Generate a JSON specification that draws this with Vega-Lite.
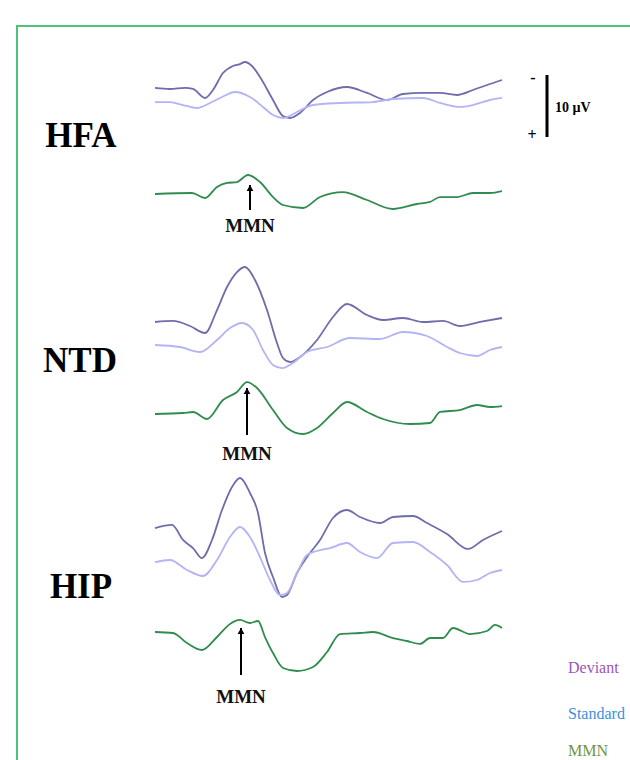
{
  "$schema": "https://vega.github.io/schema/vega-lite/v6.json",
  "width": 630,
  "height": 760,
  "autosize": {"type": "none"},
  "padding": 0,
  "background": "white",
  "config": {"view": {"stroke": null}},
  "datasets": {
    "traces": [
      {"group":"HFA","cond":"Deviant","t":-100,"v":13.89},{"group":"HFA","cond":"Deviant","t":-70,"v":14.05},{"group":"HFA","cond":"Deviant","t":-40,"v":13.89},{"group":"HFA","cond":"Deviant","t":-24,"v":14.05},{"group":"HFA","cond":"Deviant","t":0,"v":15.47},{"group":"HFA","cond":"Deviant","t":16,"v":14.21},{"group":"HFA","cond":"Deviant","t":36,"v":11.53},{"group":"HFA","cond":"Deviant","t":56,"v":10.42},{"group":"HFA","cond":"Deviant","t":70,"v":10.11},{"group":"HFA","cond":"Deviant","t":80,"v":9.79},{"group":"HFA","cond":"Deviant","t":94,"v":10.42},{"group":"HFA","cond":"Deviant","t":110,"v":12.16},{"group":"HFA","cond":"Deviant","t":136,"v":15.79},{"group":"HFA","cond":"Deviant","t":156,"v":18.32},{"group":"HFA","cond":"Deviant","t":170,"v":18.63},{"group":"HFA","cond":"Deviant","t":190,"v":17.84},{"group":"HFA","cond":"Deviant","t":216,"v":15.79},{"group":"HFA","cond":"Deviant","t":244,"v":14.53},{"group":"HFA","cond":"Deviant","t":284,"v":13.74},{"group":"HFA","cond":"Deviant","t":324,"v":14.68},{"group":"HFA","cond":"Deviant","t":364,"v":15.79},{"group":"HFA","cond":"Deviant","t":396,"v":14.84},{"group":"HFA","cond":"Deviant","t":436,"v":14.68},{"group":"HFA","cond":"Deviant","t":470,"v":14.68},{"group":"HFA","cond":"Deviant","t":504,"v":15.0},{"group":"HFA","cond":"Deviant","t":536,"v":14.21},{"group":"HFA","cond":"Deviant","t":564,"v":13.42},{"group":"HFA","cond":"Deviant","t":594,"v":12.63},

      {"group":"HFA","cond":"Standard","t":-100,"v":16.11},{"group":"HFA","cond":"Standard","t":-70,"v":16.11},{"group":"HFA","cond":"Standard","t":-44,"v":16.58},{"group":"HFA","cond":"Standard","t":-16,"v":17.05},{"group":"HFA","cond":"Standard","t":10,"v":16.26},{"group":"HFA","cond":"Standard","t":34,"v":15.32},{"group":"HFA","cond":"Standard","t":60,"v":14.53},{"group":"HFA","cond":"Standard","t":90,"v":15.32},{"group":"HFA","cond":"Standard","t":116,"v":16.89},{"group":"HFA","cond":"Standard","t":136,"v":18.16},{"group":"HFA","cond":"Standard","t":156,"v":18.63},{"group":"HFA","cond":"Standard","t":184,"v":17.68},{"group":"HFA","cond":"Standard","t":216,"v":16.58},{"group":"HFA","cond":"Standard","t":270,"v":16.26},{"group":"HFA","cond":"Standard","t":336,"v":16.11},{"group":"HFA","cond":"Standard","t":376,"v":15.63},{"group":"HFA","cond":"Standard","t":436,"v":15.47},{"group":"HFA","cond":"Standard","t":470,"v":16.26},{"group":"HFA","cond":"Standard","t":510,"v":16.89},{"group":"HFA","cond":"Standard","t":536,"v":16.58},{"group":"HFA","cond":"Standard","t":570,"v":15.79},{"group":"HFA","cond":"Standard","t":594,"v":15.47},

      {"group":"HFA","cond":"MMN","t":-100,"v":30.63},{"group":"HFA","cond":"MMN","t":-26,"v":30.47},{"group":"HFA","cond":"MMN","t":0,"v":31.26},{"group":"HFA","cond":"MMN","t":24,"v":29.53},{"group":"HFA","cond":"MMN","t":44,"v":28.89},{"group":"HFA","cond":"MMN","t":64,"v":28.74},{"group":"HFA","cond":"MMN","t":86,"v":27.63},{"group":"HFA","cond":"MMN","t":110,"v":28.74},{"group":"HFA","cond":"MMN","t":136,"v":31.11},{"group":"HFA","cond":"MMN","t":156,"v":32.37},{"group":"HFA","cond":"MMN","t":196,"v":32.84},{"group":"HFA","cond":"MMN","t":230,"v":31.11},{"group":"HFA","cond":"MMN","t":276,"v":30.32},{"group":"HFA","cond":"MMN","t":324,"v":31.58},{"group":"HFA","cond":"MMN","t":376,"v":33.0},{"group":"HFA","cond":"MMN","t":424,"v":32.21},{"group":"HFA","cond":"MMN","t":450,"v":31.89},{"group":"HFA","cond":"MMN","t":470,"v":31.11},{"group":"HFA","cond":"MMN","t":504,"v":31.11},{"group":"HFA","cond":"MMN","t":536,"v":30.47},{"group":"HFA","cond":"MMN","t":570,"v":30.47},{"group":"HFA","cond":"MMN","t":594,"v":30.16},

      {"group":"NTD","cond":"Deviant","t":-100,"v":50.84},{"group":"NTD","cond":"Deviant","t":-64,"v":50.68},{"group":"NTD","cond":"Deviant","t":-30,"v":51.47},{"group":"NTD","cond":"Deviant","t":0,"v":52.58},{"group":"NTD","cond":"Deviant","t":24,"v":48.95},{"group":"NTD","cond":"Deviant","t":44,"v":45.32},{"group":"NTD","cond":"Deviant","t":64,"v":42.95},{"group":"NTD","cond":"Deviant","t":80,"v":42.16},{"group":"NTD","cond":"Deviant","t":100,"v":44.21},{"group":"NTD","cond":"Deviant","t":124,"v":48.95},{"group":"NTD","cond":"Deviant","t":144,"v":54.16},{"group":"NTD","cond":"Deviant","t":156,"v":56.53},{"group":"NTD","cond":"Deviant","t":170,"v":57.16},{"group":"NTD","cond":"Deviant","t":190,"v":56.37},{"group":"NTD","cond":"Deviant","t":224,"v":53.68},{"group":"NTD","cond":"Deviant","t":256,"v":50.05},{"group":"NTD","cond":"Deviant","t":284,"v":48.0},{"group":"NTD","cond":"Deviant","t":324,"v":49.74},{"group":"NTD","cond":"Deviant","t":356,"v":50.53},{"group":"NTD","cond":"Deviant","t":396,"v":50.21},{"group":"NTD","cond":"Deviant","t":436,"v":50.84},{"group":"NTD","cond":"Deviant","t":476,"v":50.68},{"group":"NTD","cond":"Deviant","t":510,"v":51.47},{"group":"NTD","cond":"Deviant","t":550,"v":50.84},{"group":"NTD","cond":"Deviant","t":594,"v":50.21},

      {"group":"NTD","cond":"Standard","t":-100,"v":54.47},{"group":"NTD","cond":"Standard","t":-50,"v":54.79},{"group":"NTD","cond":"Standard","t":-10,"v":55.58},{"group":"NTD","cond":"Standard","t":24,"v":53.68},{"group":"NTD","cond":"Standard","t":50,"v":51.79},{"group":"NTD","cond":"Standard","t":74,"v":51.0},{"group":"NTD","cond":"Standard","t":96,"v":52.11},{"group":"NTD","cond":"Standard","t":116,"v":55.26},{"group":"NTD","cond":"Standard","t":136,"v":57.63},{"group":"NTD","cond":"Standard","t":154,"v":58.11},{"group":"NTD","cond":"Standard","t":176,"v":57.32},{"group":"NTD","cond":"Standard","t":204,"v":55.58},{"group":"NTD","cond":"Standard","t":244,"v":54.79},{"group":"NTD","cond":"Standard","t":290,"v":53.37},{"group":"NTD","cond":"Standard","t":350,"v":53.53},{"group":"NTD","cond":"Standard","t":396,"v":52.42},{"group":"NTD","cond":"Standard","t":444,"v":53.05},{"group":"NTD","cond":"Standard","t":484,"v":54.79},{"group":"NTD","cond":"Standard","t":510,"v":55.74},{"group":"NTD","cond":"Standard","t":544,"v":56.21},{"group":"NTD","cond":"Standard","t":570,"v":55.26},{"group":"NTD","cond":"Standard","t":594,"v":54.79},

      {"group":"NTD","cond":"MMN","t":-100,"v":65.37},{"group":"NTD","cond":"MMN","t":-44,"v":65.21},{"group":"NTD","cond":"MMN","t":-24,"v":65.05},{"group":"NTD","cond":"MMN","t":4,"v":66.16},{"group":"NTD","cond":"MMN","t":36,"v":63.16},{"group":"NTD","cond":"MMN","t":64,"v":61.89},{"group":"NTD","cond":"MMN","t":84,"v":60.32},{"group":"NTD","cond":"MMN","t":104,"v":61.26},{"group":"NTD","cond":"MMN","t":136,"v":64.74},{"group":"NTD","cond":"MMN","t":164,"v":67.58},{"group":"NTD","cond":"MMN","t":196,"v":68.53},{"group":"NTD","cond":"MMN","t":224,"v":67.58},{"group":"NTD","cond":"MMN","t":256,"v":65.21},{"group":"NTD","cond":"MMN","t":284,"v":63.47},{"group":"NTD","cond":"MMN","t":324,"v":65.05},{"group":"NTD","cond":"MMN","t":356,"v":66.16},{"group":"NTD","cond":"MMN","t":410,"v":66.95},{"group":"NTD","cond":"MMN","t":450,"v":66.79},{"group":"NTD","cond":"MMN","t":470,"v":65.05},{"group":"NTD","cond":"MMN","t":510,"v":64.74},{"group":"NTD","cond":"MMN","t":544,"v":63.95},{"group":"NTD","cond":"MMN","t":570,"v":64.26},{"group":"NTD","cond":"MMN","t":594,"v":64.11},

      {"group":"HIP","cond":"Deviant","t":-100,"v":83.37},{"group":"HIP","cond":"Deviant","t":-66,"v":82.89},{"group":"HIP","cond":"Deviant","t":-44,"v":85.26},{"group":"HIP","cond":"Deviant","t":-24,"v":86.53},{"group":"HIP","cond":"Deviant","t":-6,"v":88.11},{"group":"HIP","cond":"Deviant","t":14,"v":85.26},{"group":"HIP","cond":"Deviant","t":34,"v":80.53},{"group":"HIP","cond":"Deviant","t":54,"v":76.89},{"group":"HIP","cond":"Deviant","t":70,"v":75.47},{"group":"HIP","cond":"Deviant","t":90,"v":77.84},{"group":"HIP","cond":"Deviant","t":106,"v":81.0},{"group":"HIP","cond":"Deviant","t":120,"v":87.32},{"group":"HIP","cond":"Deviant","t":136,"v":91.11},{"group":"HIP","cond":"Deviant","t":154,"v":94.26},{"group":"HIP","cond":"Deviant","t":164,"v":93.95},{"group":"HIP","cond":"Deviant","t":184,"v":90.47},{"group":"HIP","cond":"Deviant","t":204,"v":87.95},{"group":"HIP","cond":"Deviant","t":230,"v":85.26},{"group":"HIP","cond":"Deviant","t":256,"v":81.79},{"group":"HIP","cond":"Deviant","t":284,"v":80.53},{"group":"HIP","cond":"Deviant","t":310,"v":81.63},{"group":"HIP","cond":"Deviant","t":350,"v":82.58},{"group":"HIP","cond":"Deviant","t":376,"v":81.63},{"group":"HIP","cond":"Deviant","t":416,"v":81.47},{"group":"HIP","cond":"Deviant","t":444,"v":82.58},{"group":"HIP","cond":"Deviant","t":484,"v":84.32},{"group":"HIP","cond":"Deviant","t":526,"v":86.68},{"group":"HIP","cond":"Deviant","t":556,"v":85.26},{"group":"HIP","cond":"Deviant","t":594,"v":83.84},

      {"group":"HIP","cond":"Standard","t":-100,"v":88.74},{"group":"HIP","cond":"Standard","t":-70,"v":88.42},{"group":"HIP","cond":"Standard","t":-36,"v":90.0},{"group":"HIP","cond":"Standard","t":-4,"v":90.95},{"group":"HIP","cond":"Standard","t":24,"v":88.42},{"group":"HIP","cond":"Standard","t":50,"v":84.79},{"group":"HIP","cond":"Standard","t":70,"v":83.21},{"group":"HIP","cond":"Standard","t":90,"v":84.79},{"group":"HIP","cond":"Standard","t":110,"v":87.95},{"group":"HIP","cond":"Standard","t":130,"v":91.58},{"group":"HIP","cond":"Standard","t":150,"v":93.95},{"group":"HIP","cond":"Standard","t":164,"v":93.63},{"group":"HIP","cond":"Standard","t":184,"v":90.47},{"group":"HIP","cond":"Standard","t":204,"v":87.63},{"group":"HIP","cond":"Standard","t":224,"v":87.0},{"group":"HIP","cond":"Standard","t":250,"v":86.53},{"group":"HIP","cond":"Standard","t":284,"v":85.74},{"group":"HIP","cond":"Standard","t":310,"v":87.16},{"group":"HIP","cond":"Standard","t":344,"v":88.11},{"group":"HIP","cond":"Standard","t":376,"v":85.74},{"group":"HIP","cond":"Standard","t":416,"v":85.58},{"group":"HIP","cond":"Standard","t":450,"v":87.16},{"group":"HIP","cond":"Standard","t":484,"v":89.21},{"group":"HIP","cond":"Standard","t":516,"v":91.89},{"group":"HIP","cond":"Standard","t":544,"v":91.58},{"group":"HIP","cond":"Standard","t":570,"v":90.47},{"group":"HIP","cond":"Standard","t":594,"v":90.0},

      {"group":"HIP","cond":"MMN","t":-100,"v":99.79},{"group":"HIP","cond":"MMN","t":-64,"v":99.95},{"group":"HIP","cond":"MMN","t":-36,"v":101.53},{"group":"HIP","cond":"MMN","t":-6,"v":102.63},{"group":"HIP","cond":"MMN","t":24,"v":100.58},{"group":"HIP","cond":"MMN","t":50,"v":98.53},{"group":"HIP","cond":"MMN","t":70,"v":97.89},{"group":"HIP","cond":"MMN","t":90,"v":98.37},{"group":"HIP","cond":"MMN","t":106,"v":98.05},{"group":"HIP","cond":"MMN","t":120,"v":100.58},{"group":"HIP","cond":"MMN","t":136,"v":103.11},{"group":"HIP","cond":"MMN","t":156,"v":105.47},{"group":"HIP","cond":"MMN","t":184,"v":105.95},{"group":"HIP","cond":"MMN","t":216,"v":105.32},{"group":"HIP","cond":"MMN","t":244,"v":102.95},{"group":"HIP","cond":"MMN","t":270,"v":100.11},{"group":"HIP","cond":"MMN","t":310,"v":99.95},{"group":"HIP","cond":"MMN","t":336,"v":99.79},{"group":"HIP","cond":"MMN","t":376,"v":100.74},{"group":"HIP","cond":"MMN","t":404,"v":101.21},{"group":"HIP","cond":"MMN","t":430,"v":101.68},{"group":"HIP","cond":"MMN","t":450,"v":100.74},{"group":"HIP","cond":"MMN","t":476,"v":100.74},{"group":"HIP","cond":"MMN","t":496,"v":99.16},{"group":"HIP","cond":"MMN","t":530,"v":100.11},{"group":"HIP","cond":"MMN","t":564,"v":99.63},{"group":"HIP","cond":"MMN","t":580,"v":98.68},{"group":"HIP","cond":"MMN","t":594,"v":99.16}
    ],
    "arrows": [
      {"group":"HFA","t":90,"tip":29.21,"end":33.16,"label":36.58},
      {"group":"NTD","t":84,"tip":61.26,"end":68.68,"label":72.63},
      {"group":"HIP","t":72,"tip":99.16,"end":106.58,"label":111.0}
    ],
    "groups": [
      {"group":"HFA","t":-248,"v":23.21},
      {"group":"NTD","t":-250,"v":58.74},
      {"group":"HIP","t":-248,"v":94.42}
    ],
    "scalebar": [{"t":684,"v1":11.84,"v2":21.63}],
    "scaletext": [
      {"text":"-","t":656,"v":12.3,"align":"center"},
      {"text":"+","t":654,"v":21.3,"align":"center"},
      {"text":"10 µV","t":700,"v":17.05,"align":"left"}
    ],
    "legend": [
      {"cond":"Deviant","t":726,"v":106.26},
      {"cond":"Standard","t":726,"v":113.55},
      {"cond":"MMN","t":726,"v":119.3}
    ],
    "frame": [{"t":-376,"t2":900,"v":4.1,"v2":125}]
  },
  "encoding": {
    "x": {"field": "t", "type": "quantitative", "scale": {"domain": [-410, 850], "nice": false, "zero": false}, "axis": null},
    "y": {"field": "v", "type": "quantitative", "scale": {"domain": [0, 120], "reverse": true, "nice": false, "zero": false}, "axis": null}
  },
  "layer": [
    {
      "data": {"name": "frame"},
      "mark": {"type": "rect", "fill": null, "stroke": "#4cc57a", "strokeWidth": 2, "clip": true},
      "encoding": {
        "x2": {"field": "t2"},
        "y2": {"field": "v2"}
      }
    },
    {
      "data": {"name": "traces"},
      "transform": [{"calculate": "datum.group + '-' + datum.cond", "as": "trace"}],
      "mark": {"type": "line", "strokeWidth": 1.8, "interpolate": "monotone"},
      "encoding": {
        "detail": {"field": "trace"},
        "color": {"field": "cond", "type": "nominal", "legend": null,
          "scale": {"domain": ["Deviant", "Standard", "MMN"], "range": ["#6f6cab", "#b3b3f5", "#2f8c4f"]}}
      }
    },
    {
      "data": {"name": "arrows"},
      "mark": {"type": "rule", "color": "black", "strokeWidth": 2},
      "encoding": {
        "y": {"field": "tip", "type": "quantitative"},
        "y2": {"field": "end"}
      }
    },
    {
      "data": {"name": "arrows"},
      "mark": {"type": "point", "shape": "triangle-up", "filled": true, "color": "black", "opacity": 1, "size": 45, "yOffset": 3},
      "encoding": {
        "y": {"field": "tip", "type": "quantitative"}
      }
    },
    {
      "data": {"name": "arrows"},
      "mark": {"type": "text", "text": "MMN", "font": "Liberation Serif", "fontWeight": "bold", "fontSize": 19, "align": "center", "baseline": "alphabetic", "color": "#111111"},
      "encoding": {
        "y": {"field": "label", "type": "quantitative"}
      }
    },
    {
      "data": {"name": "groups"},
      "mark": {"type": "text", "font": "Liberation Serif", "fontWeight": "bold", "fontSize": 35, "align": "center", "baseline": "alphabetic", "color": "#000000"},
      "encoding": {
        "text": {"field": "group"}
      }
    },
    {
      "data": {"name": "scalebar"},
      "mark": {"type": "rule", "color": "#000000", "strokeWidth": 3},
      "encoding": {
        "y": {"field": "v1", "type": "quantitative"},
        "y2": {"field": "v2"}
      }
    },
    {
      "data": {"name": "scaletext"},
      "transform": [{"filter": "datum.align == 'center'"}],
      "mark": {"type": "text", "font": "Liberation Serif", "fontWeight": "bold", "fontSize": 16, "align": "center", "baseline": "middle", "color": "#000000"},
      "encoding": {
        "text": {"field": "text"}
      }
    },
    {
      "data": {"name": "scaletext"},
      "transform": [{"filter": "datum.align == 'left'"}],
      "mark": {"type": "text", "font": "Liberation Serif", "fontWeight": "bold", "fontSize": 14, "align": "left", "baseline": "middle", "color": "#000000"},
      "encoding": {
        "text": {"field": "text"}
      }
    },
    {
      "data": {"name": "legend"},
      "mark": {"type": "text", "font": "Liberation Serif", "fontSize": 16, "align": "left", "baseline": "alphabetic"},
      "encoding": {
        "text": {"field": "cond"},
        "color": {"field": "cond", "type": "nominal", "legend": null,
          "scale": {"domain": ["Deviant", "Standard", "MMN"], "range": ["#9b55b8", "#3d8fdc", "#6f9440"]}}
      }
    }
  ],
  "resolve": {"scale": {"color": "independent"}}
}
